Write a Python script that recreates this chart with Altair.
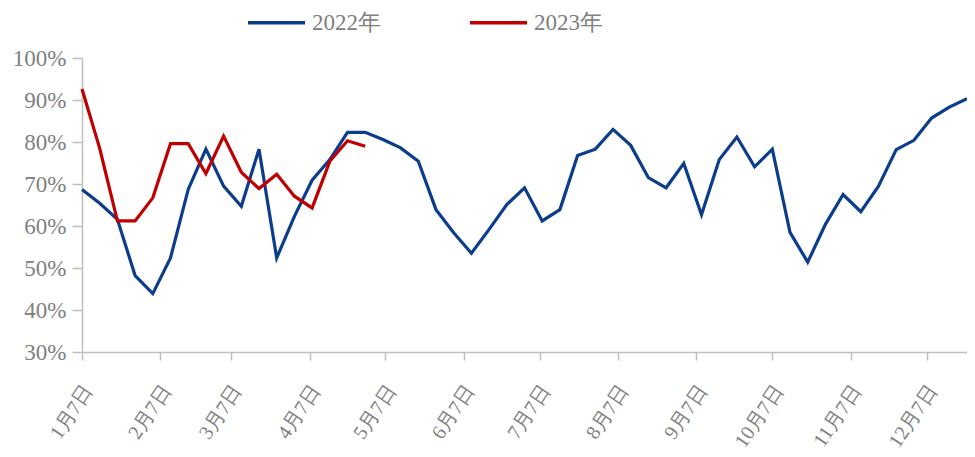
import altair as alt
import pandas as pd

# weekly observation dates (x categories, shared by both years)
weeks = pd.date_range("2022-01-07", periods=51, freq="7D").strftime("%Y-%m-%dT00:00:00").tolist()

series_names = ["2022年", "2023年"]
colors = ["#0b3d8c", "#c00000"]

v2022 = [68.7, 65.4, 61.6, 48.2, 43.9, 52.4, 68.7, 78.3, 69.5, 64.7,
         78.3, 52.4, 62.3, 70.9, 75.8, 82.3, 82.3, 80.6, 78.6, 75.4,
         63.9, 58.4, 53.5, 59.2, 65.1, 69.1, 61.2, 63.9, 76.8, 78.3,
         83.0, 79.2, 71.5, 69.1, 74.9, 62.7, 75.8, 81.2, 74.1, 78.3,
         58.5, 51.4, 60.4, 67.5, 63.4, 69.5, 78.2, 80.4, 85.7, 88.3, 90.3]
v2023 = [92.6, 78.5, 61.2, 61.2, 66.7, 79.6, 79.6, 72.5, 81.4, 72.8,
         68.9, 72.3, 67.1, 64.3, 75.4, 80.3, 79.0]

y_ticks = [30, 40, 50, 60, 70, 80, 90, 100]
tick_months = list(range(1, 13))

rows = []
for d, v in zip(weeks, v2022):
    rows.append({"series": series_names[0], "date": d, "value": v})
for d, v in zip(weeks, v2023):
    rows.append({"series": series_names[1], "date": d, "value": v})
df = pd.DataFrame(rows)

font = "Liberation Serif, DejaVu Serif, serif"
gray = "#808080"
axis_gray = "#bfbfbf"

chart = alt.Chart(df).mark_line(strokeWidth=3.2).encode(
    x=alt.X(
        "date:T",
        scale=alt.Scale(domain=[alt.DateTime(year=2022, month=1, date=7),
                                alt.DateTime(year=2022, month=12, date=23)]),
        axis=alt.Axis(
            values=[alt.DateTime(year=2022, month=m, date=7) for m in tick_months],
            format="%-m月%-d日",
            labelAngle=-56,
            labelAlign="right",
            labelBaseline="middle",
            labelFontSize=20,
            labelFont=font,
            labelColor=gray,
            labelPadding=27,
            labelOffset=6,
            labelOverlap=False,
            labelFlush=False,
            tickSize=8,
            tickColor=axis_gray,
            tickWidth=1.5,
            domainColor=axis_gray,
            domainWidth=1.5,
            grid=False,
            title=None,
        ),
    ),
    y=alt.Y(
        "value:Q",
        scale=alt.Scale(domain=[30, 100], nice=False, zero=False),
        axis=alt.Axis(
            values=y_ticks,
            labelExpr="datum.value + '%'",
            labelFontSize=23,
            labelFont=font,
            labelColor=gray,
            labelPadding=6,
            tickSize=10,
            tickColor=axis_gray,
            tickWidth=1.5,
            domainColor=axis_gray,
            domainWidth=1.5,
            grid=False,
            title=None,
        ),
    ),
    color=alt.Color(
        "series:N",
        scale=alt.Scale(domain=series_names, range=colors),
        legend=alt.Legend(
            title=None,
            orient="none",
            legendX=164,
            legendY=-66,
            direction="horizontal",
            symbolType="stroke",
            symbolSize=3249,
            symbolStrokeWidth=3.5,
            labelFontSize=23,
            labelFont=font,
            labelColor=gray,
            labelOffset=5,
            columnPadding=82,
        ),
    ),
).properties(
    width=885,
    height=294,
    autosize=alt.AutoSizeParams(type="none"),
    padding={"left": 74, "top": 50, "right": 0, "bottom": 105},
).configure_view(stroke=None)

chart.save("out.html", embed_options={"renderer": "svg", "actions": False})
